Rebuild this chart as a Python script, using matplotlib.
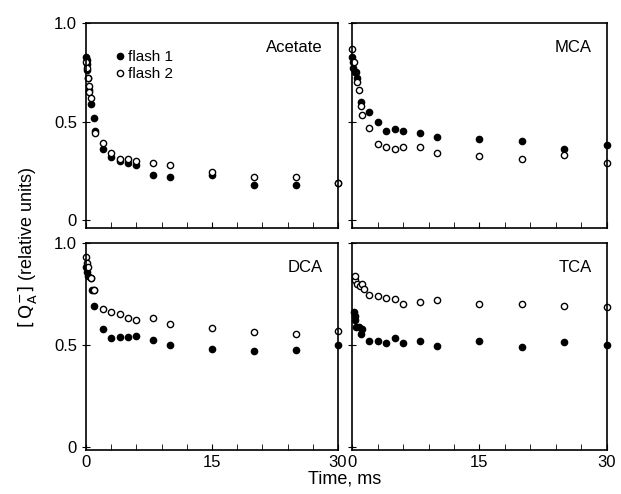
import numpy as np
import matplotlib
matplotlib.use("Agg")
import matplotlib.pyplot as plt

plt.rcParams['font.family'] = ['Liberation Sans', 'DejaVu Sans']

panel_names = ['Acetate', 'MCA', 'DCA', 'TCA']

# flash 1 (filled) and flash 2 (open) per panel: time in ms, relative units
ace_t1 = [0.05, 0.08, 0.12, 0.16, 0.25, 0.4, 0.55, 0.9, 1.1, 2, 3, 4, 5, 6, 8, 10, 15, 20, 25, 30]
ace_y1 = [0.83, 0.81, 0.79, 0.76, 0.72, 0.66, 0.59, 0.52, 0.45, 0.36, 0.32, 0.30, 0.29, 0.28, 0.23, 0.22, 0.23, 0.18, 0.18, 0.19]
ace_t2 = [0.05, 0.1, 0.2, 0.3, 0.4, 0.55, 1.1, 2, 3, 4, 5, 6, 8, 10, 15, 20, 25, 30]
ace_y2 = [0.80, 0.77, 0.72, 0.68, 0.65, 0.62, 0.44, 0.39, 0.34, 0.31, 0.31, 0.30, 0.29, 0.28, 0.245, 0.22, 0.22, 0.19]

mca_t1 = [0.05, 0.1, 0.15, 0.3, 0.47, 0.6, 1.05, 2, 3, 4, 5, 6, 8, 10, 15, 20, 25, 30]
mca_y1 = [0.83, 0.80, 0.77, 0.75, 0.75, 0.72, 0.60, 0.55, 0.50, 0.45, 0.46, 0.45, 0.44, 0.42, 0.41, 0.40, 0.36, 0.38]
mca_t2 = [0.05, 0.2, 0.6, 0.8, 1.05, 1.2, 2, 3, 4, 5, 6, 8, 10, 15, 20, 25, 30]
mca_y2 = [0.87, 0.80, 0.70, 0.66, 0.58, 0.535, 0.465, 0.385, 0.37, 0.36, 0.37, 0.37, 0.34, 0.325, 0.31, 0.33, 0.29]

dca_t1 = [0.05, 0.1, 0.2, 0.6, 0.7, 0.9, 1.0, 2, 3, 4, 5, 6, 8, 10, 15, 20, 25, 30]
dca_y1 = [0.88, 0.86, 0.84, 0.83, 0.77, 0.77, 0.69, 0.58, 0.535, 0.54, 0.54, 0.545, 0.525, 0.50, 0.48, 0.47, 0.475, 0.50]
dca_t2 = [0.05, 0.1, 0.2, 0.6, 0.9, 2, 3, 4, 5, 6, 8, 10, 15, 20, 25, 30]
dca_y2 = [0.93, 0.90, 0.88, 0.83, 0.77, 0.675, 0.66, 0.65, 0.63, 0.62, 0.63, 0.605, 0.585, 0.565, 0.555, 0.57]

tca_t1 = [0.2, 0.3, 0.4, 0.5, 0.8, 1.1, 1.2, 2, 3, 4, 5, 6, 8, 10, 15, 20, 25, 30]
tca_y1 = [0.66, 0.64, 0.62, 0.59, 0.59, 0.555, 0.58, 0.52, 0.52, 0.51, 0.535, 0.51, 0.52, 0.495, 0.52, 0.49, 0.515, 0.50]
tca_t2 = [0.3, 0.4, 0.6, 0.9, 1.2, 1.4, 2, 3, 4, 5, 6, 8, 10, 15, 20, 25, 30]
tca_y2 = [0.82, 0.84, 0.80, 0.79, 0.80, 0.775, 0.745, 0.74, 0.73, 0.725, 0.70, 0.71, 0.72, 0.70, 0.70, 0.69, 0.685]

series = [
    (ace_t1, ace_y1, ace_t2, ace_y2),
    (mca_t1, mca_y1, mca_t2, mca_y2),
    (dca_t1, dca_y1, dca_t2, dca_y2),
    (tca_t1, tca_y1, tca_t2, tca_y2),
]

fig = plt.figure(figsize=(6.21, 4.94), dpi=100)

W, H = 621.0, 494.0
# pixel boxes (left, top, right, bottom)
boxes = [(86, 23, 338, 228), (352, 23, 607, 228),
         (86, 243, 338, 450), (352, 243, 607, 450)]

for i, (name, (t1, y1, t2, y2)) in enumerate(zip(panel_names, series)):
    l, t, r, b = boxes[i]
    ax = fig.add_axes([l / W, 1 - b / H, (r - l) / W, (b - t) / H])
    ax.plot(t1, y1, 'o', color='black', markersize=4.5, clip_on=False, label='flash 1')
    ax.plot(t2, y2, 'o', markerfacecolor='white', markeredgecolor='black',
            markeredgewidth=1.0, markersize=4.5, clip_on=False, label='flash 2')
    ax.set_xlim(0, 30)
    if i < 2:
        ax.set_ylim(-0.04, 1.0)
    else:
        ax.set_ylim(-0.015, 1.0)
    ax.set_xticks(np.arange(0, 31, 3), minor=True)
    ax.set_xticks([0, 15, 30])
    ax.set_yticks([0, 0.5, 1.0])
    ax.tick_params(axis='x', which='both', direction='in', length=4, labelsize=12)
    ax.tick_params(axis='y', direction='inout', length=6, labelsize=12)
    for s in ax.spines.values():
        s.set_linewidth(1.2)
    if i < 2:
        ax.set_xticklabels([])
    if i % 2 == 1:
        ax.set_yticklabels([])
    else:
        ax.set_yticklabels(['0', '0.5', '1.0'])
    ax.text(0.94, 0.88, name, transform=ax.transAxes, ha='right', va='center', fontsize=12)
    if i == 0:
        ax.legend(loc='upper left', bbox_to_anchor=(0.07, 0.92), frameon=False,
                  handletextpad=0.1, handlelength=0.8, borderpad=0.2,
                  labelspacing=0.2, fontsize=11)

fig.text(0.045, 0.5, r'$\left[\,\mathrm{Q}_\mathrm{A}^{-}\right]$ (relative units)',
         rotation=90, ha='center', va='center', fontsize=13)
fig.text(0.555, 0.03, 'Time, ms', ha='center', va='center', fontsize=13)

fig.savefig('out.png', dpi=100)
